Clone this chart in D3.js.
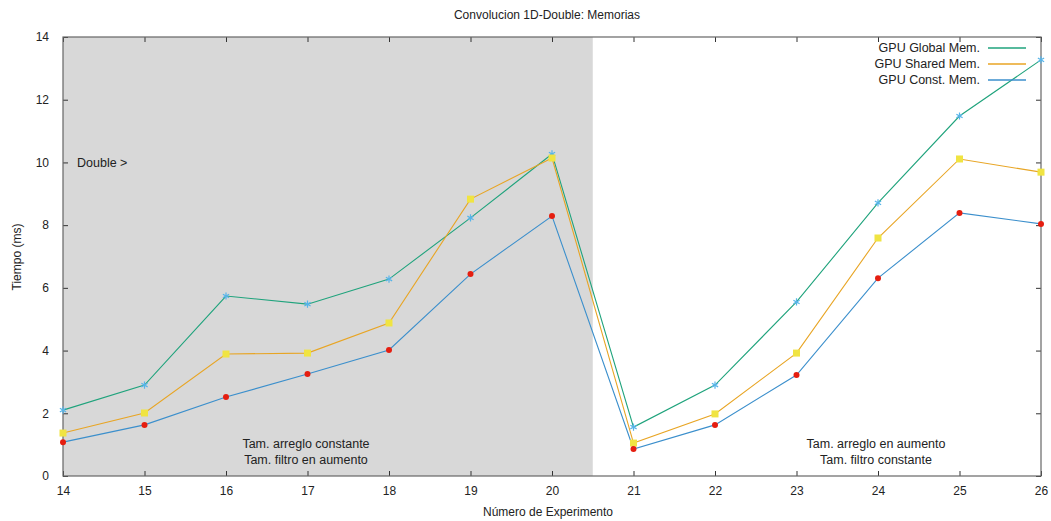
<!DOCTYPE html>
<html>
<head>
<meta charset="utf-8">
<script src="https://cdn.jsdelivr.net/npm/d3@7"></script>
<style>
  body { margin: 0; background: #fff; }
  svg text { font-family: "Liberation Sans", Arial, sans-serif; fill: #222; }
</style>
</head>
<body>
<svg id="chart" width="1051" height="521"></svg>
<script>
// Experiment numbers on the x axis
const experiments = [14, 15, 16, 17, 18, 19, 20, 21, 22, 23, 24, 25, 26];
// Execution times (ms) per memory type
const globalMem = [2.10, 2.90, 5.74, 5.48, 6.28, 8.23, 10.27, 1.56, 2.90, 5.55, 8.71, 11.48, 13.27];
const sharedMem = [1.37, 2.01, 3.89, 3.92, 4.88, 8.83, 10.14, 1.05, 1.98, 3.92, 7.59, 10.11, 9.69];
const constMem  = [1.08, 1.63, 2.52, 3.25, 4.02, 6.44, 8.29, 0.86, 1.63, 3.22, 6.31, 8.39, 8.04];
const yTicks = [0, 2, 4, 6, 8, 10, 12, 14];
const seriesNames = ["GPU Global Mem.", "GPU Shared Mem.", "GPU Const. Mem."];
const shadeEnd = 20.5;

const svg = d3.select("#chart");
const plotLeft = 63, plotRight = 1041, plotTop = 37, plotBottom = 476;

const x = d3.scaleLinear().domain([14, 26]).range([plotLeft, plotRight]);
const y = d3.scaleLinear().domain([0, 14]).range([plotBottom, plotTop]);

// shaded region for the first group of experiments
svg.append("rect")
  .attr("x", x(14)).attr("y", y(14))
  .attr("width", x(shadeEnd) - x(14)).attr("height", y(0) - y(14))
  .attr("fill", "#d8d8d8");

// axes with inward ticks, mirrored on top/right
const tickLen = 5;
const axisBottom = d3.axisBottom(x).tickValues(experiments).tickFormat(d3.format("d")).tickSizeInner(-tickLen).tickSizeOuter(0).tickPadding(10);
const axisTop = d3.axisTop(x).tickValues(experiments).tickFormat("").tickSizeInner(-tickLen).tickSizeOuter(0);
const axisLeft = d3.axisLeft(y).tickValues(yTicks).tickFormat(d3.format("d")).tickSizeInner(-tickLen).tickSizeOuter(0).tickPadding(14);
const axisRight = d3.axisRight(y).tickValues(yTicks).tickFormat("").tickSizeInner(-tickLen).tickSizeOuter(0);

function styleAxis(g) {
  g.select(".domain").remove();
  g.selectAll(".tick line").attr("stroke", "#333");
  g.selectAll(".tick text").style("font-size", "12px").style("font-family", "Liberation Sans, Arial, sans-serif").attr("fill", "#222");
}
svg.append("g").attr("transform", `translate(0,${plotBottom})`).call(axisBottom).call(styleAxis);
svg.append("g").attr("transform", `translate(0,${plotTop})`).call(axisTop).call(styleAxis);
svg.append("g").attr("transform", `translate(${plotLeft},0)`).call(axisLeft).call(styleAxis);
svg.append("g").attr("transform", `translate(${plotRight},0)`).call(axisRight).call(styleAxis);

// border
svg.append("rect")
  .attr("x", plotLeft).attr("y", plotTop).attr("width", plotRight - plotLeft).attr("height", plotBottom - plotTop)
  .attr("fill", "none").attr("stroke", "#666").attr("stroke-width", 1.2);

// annotations
svg.append("text").attr("x", 77).attr("y", 167).style("font-size", "12.5px").text("Double >");
const noteL = svg.append("text").attr("text-anchor", "middle").style("font-size", "12.5px");
noteL.append("tspan").attr("x", 306).attr("y", 448).text("Tam. arreglo constante");
noteL.append("tspan").attr("x", 306).attr("y", 464).text("Tam. filtro en aumento");
const noteR = svg.append("text").attr("text-anchor", "middle").style("font-size", "12.5px");
noteR.append("tspan").attr("x", 876).attr("y", 448).text("Tam. arreglo en aumento");
noteR.append("tspan").attr("x", 876).attr("y", 464).text("Tam. filtro constante");

// titles
svg.append("text").attr("x", 547).attr("y", 19).attr("text-anchor", "middle").style("font-size", "12px")
  .text("Convolucion 1D-Double: Memorias");
svg.append("text").attr("x", 548).attr("y", 516).attr("text-anchor", "middle").style("font-size", "12px")
  .text("Número de Experimento");
svg.append("text").attr("transform", "translate(21,257) rotate(-90)").attr("text-anchor", "middle").style("font-size", "12px")
  .text("Tiempo (ms)");

// series
const series = [
  { name: seriesNames[0], values: globalMem, line: "#1fa37c", marker: "star", mcolor: "#56b4e9" },
  { name: seriesNames[1], values: sharedMem, line: "#e8a524", marker: "square", mcolor: "#f0e442" },
  { name: seriesNames[2], values: constMem,  line: "#3b8fcc", marker: "circle", mcolor: "#e51e10" }
];

const line = d3.line().x((d, i) => x(experiments[i])).y(d => y(d));

series.forEach(s => {
  svg.append("path").datum(s.values)
    .attr("d", line).attr("fill", "none").attr("stroke", s.line).attr("stroke-width", 1.1);
});

series.forEach(s => {
  const g = svg.append("g");
  s.values.forEach((v, i) => {
    const cx = x(experiments[i]), cy = y(v);
    if (s.marker === "circle") {
      g.append("circle").attr("cx", cx).attr("cy", cy).attr("r", 3).attr("fill", s.mcolor);
    } else if (s.marker === "square") {
      g.append("rect").attr("x", cx - 3.5).attr("y", cy - 3.5).attr("width", 7).attr("height", 7).attr("fill", s.mcolor);
    } else {
      g.append("path")
        .attr("d", d3.symbol(d3.symbolAsterisk, 36)())
        .attr("transform", `translate(${cx},${cy})`)
        .attr("fill", "none").attr("stroke", s.mcolor).attr("stroke-width", 1.2);
    }
  });
});

// legend
series.forEach((s, i) => {
  const ly = 48 + i * 16;
  svg.append("text").attr("x", 980).attr("y", ly + 4).attr("text-anchor", "end").style("font-size", "12.5px").text(s.name);
  svg.append("line").attr("x1", 988).attr("x2", 1026).attr("y1", ly).attr("y2", ly)
    .attr("stroke", s.line).attr("stroke-width", 1.3);
});
</script>
</body>
</html>
